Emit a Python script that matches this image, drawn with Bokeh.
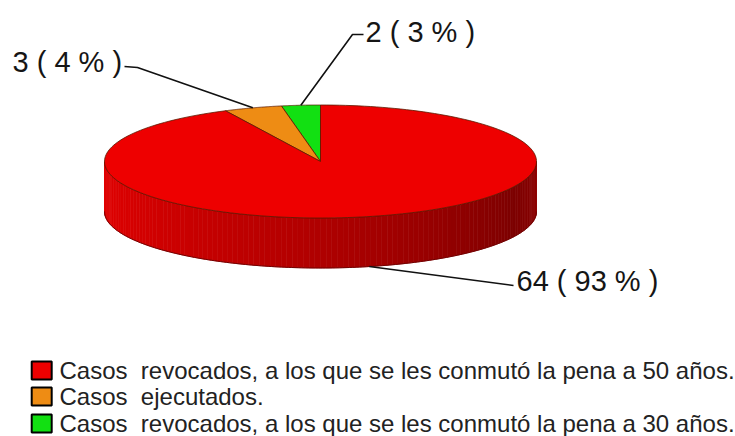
import numpy as np
from bokeh.plotting import figure
from bokeh.models import Range1d, ColumnDataSource
from bokeh.core.properties import value
from bokeh.embed import file_html
from bokeh.resources import INLINE

# ---- data ----
categories = [
    "Casos  revocados, a los que se les conmutó la pena a 50 años.",
    "Casos  ejecutados.",
    "Casos  revocados, a los que se les conmutó la pena a 30 años.",
]
counts = [64, 3, 2]
percents = [93, 4, 3]
colors = ["#EE0000", "#EE8C14", "#12E012"]

# ---- layout (picture pixel coordinates) ----
W, H = 735, 436
CX, CY, RX, RY, DEPTH = 320, 161, 216, 56.5, 50

p = figure(width=W, height=H, output_backend="svg", toolbar_location=None,
           x_range=Range1d(0, W), y_range=Range1d(H, 0),
           min_border=0, outline_line_color=None)
p.axis.visible = False
p.grid.visible = False
p.background_fill_color = "white"

total = sum(counts)
fracs = [c / total for c in counts]
# slices drawn counter-clockwise from 12 o'clock: green, orange, red
order = [2, 1, 0]
starts, ends = {}, {}
a = np.pi / 2
for i in order:
    starts[i] = a
    a += fracs[i] * 2 * np.pi
    ends[i] = a

def ex(t):
    return CX + RX * np.cos(t)

def ey(t, d=0):
    return CY - RY * np.sin(t) + d

# ---- side (front half, red slice) ----
ths = np.linspace(np.pi, 2 * np.pi, 121)
sx, sy, sc = [], [], []
for k in range(len(ths) - 1):
    t0, t1 = ths[k], ths[k + 1]
    sx.append([ex(t0), ex(t1), ex(t1), ex(t0)])
    sy.append([ey(t0), ey(t1), ey(t1, DEPTH), ey(t0, DEPTH)])
    f = (0.5 * (t0 + t1) - np.pi) / np.pi  # 0 left .. 1 right
    if f < 0.85:
        r = 226 - (226 - 125) * (f / 0.85) ** 1.3
    else:
        r = 125 + 18 * (f - 0.85) / 0.15
    sc.append("#%02x0000" % int(r))
p.patches(sx, sy, fill_color=sc, line_color=sc, line_width=0.6)
tb = np.linspace(np.pi, 2 * np.pi, 200)
p.line(ex(tb), ey(tb, DEPTH), line_color="#700000", line_width=1)
p.line(ex(tb), ey(tb), line_color="#7a0000", line_width=0.8, line_alpha=0.6)

# ---- top slices ----
px, py, pc = [], [], []
for i in order:
    t = np.linspace(starts[i], ends[i], 200)
    px.append([CX] + list(ex(t)))
    py.append([CY] + list(ey(t)))
    pc.append(colors[i])
p.patches(px, py, fill_color=pc, line_color="#5a1a00", line_width=0.8)

# ---- leader lines & labels ----
lab_font = value("Liberation Sans")
label_txt = [f"{counts[i]} ( {percents[i]} % )" for i in range(3)]
mids = [0.5 * (starts[i] + ends[i]) for i in range(3)]
anc = []
for i in range(3):
    d = DEPTH if np.sin(mids[i]) < 0 else 0
    anc.append((ex(mids[i]), ey(mids[i], d)))
elbows = {0: (513, 285), 1: (137, 67), 2: (352, 34)}
ends_h = {0: (513, 285), 1: (124, 66), 2: (363, 34)}
tpos = {0: (516, 280), 1: (12, 61), 2: (365, 31)}
for i in range(3):
    ax_, ay_ = anc[i]
    exx, eyy = elbows[i]
    hx, hy = ends_h[i]
    p.line([ax_, exx, hx], [ay_, eyy, hy], line_color="#111111", line_width=1.6)
    p.text([tpos[i][0]], [tpos[i][1]], text=[label_txt[i]], text_font=lab_font,
           text_font_size="29px", text_color="#151515", text_align="left",
           text_baseline="middle")

# ---- legend ----
ly = [370, 396, 423]
shown = [c.replace("  ", "\u00a0 ") for c in categories]
src = ColumnDataSource(dict(y=ly, c=colors, t=shown))
p.rect(x=41.2, y="y", width=20, height=18, fill_color="c", line_color="black",
       line_width=2, source=src)
p.text(x=59, y="y", text="t", text_font=value("Liberation Sans"),
       text_font_size="24px", text_color="#222222", text_baseline="middle",
       source=src)

open("out.html", "w").write(file_html(p, INLINE))
